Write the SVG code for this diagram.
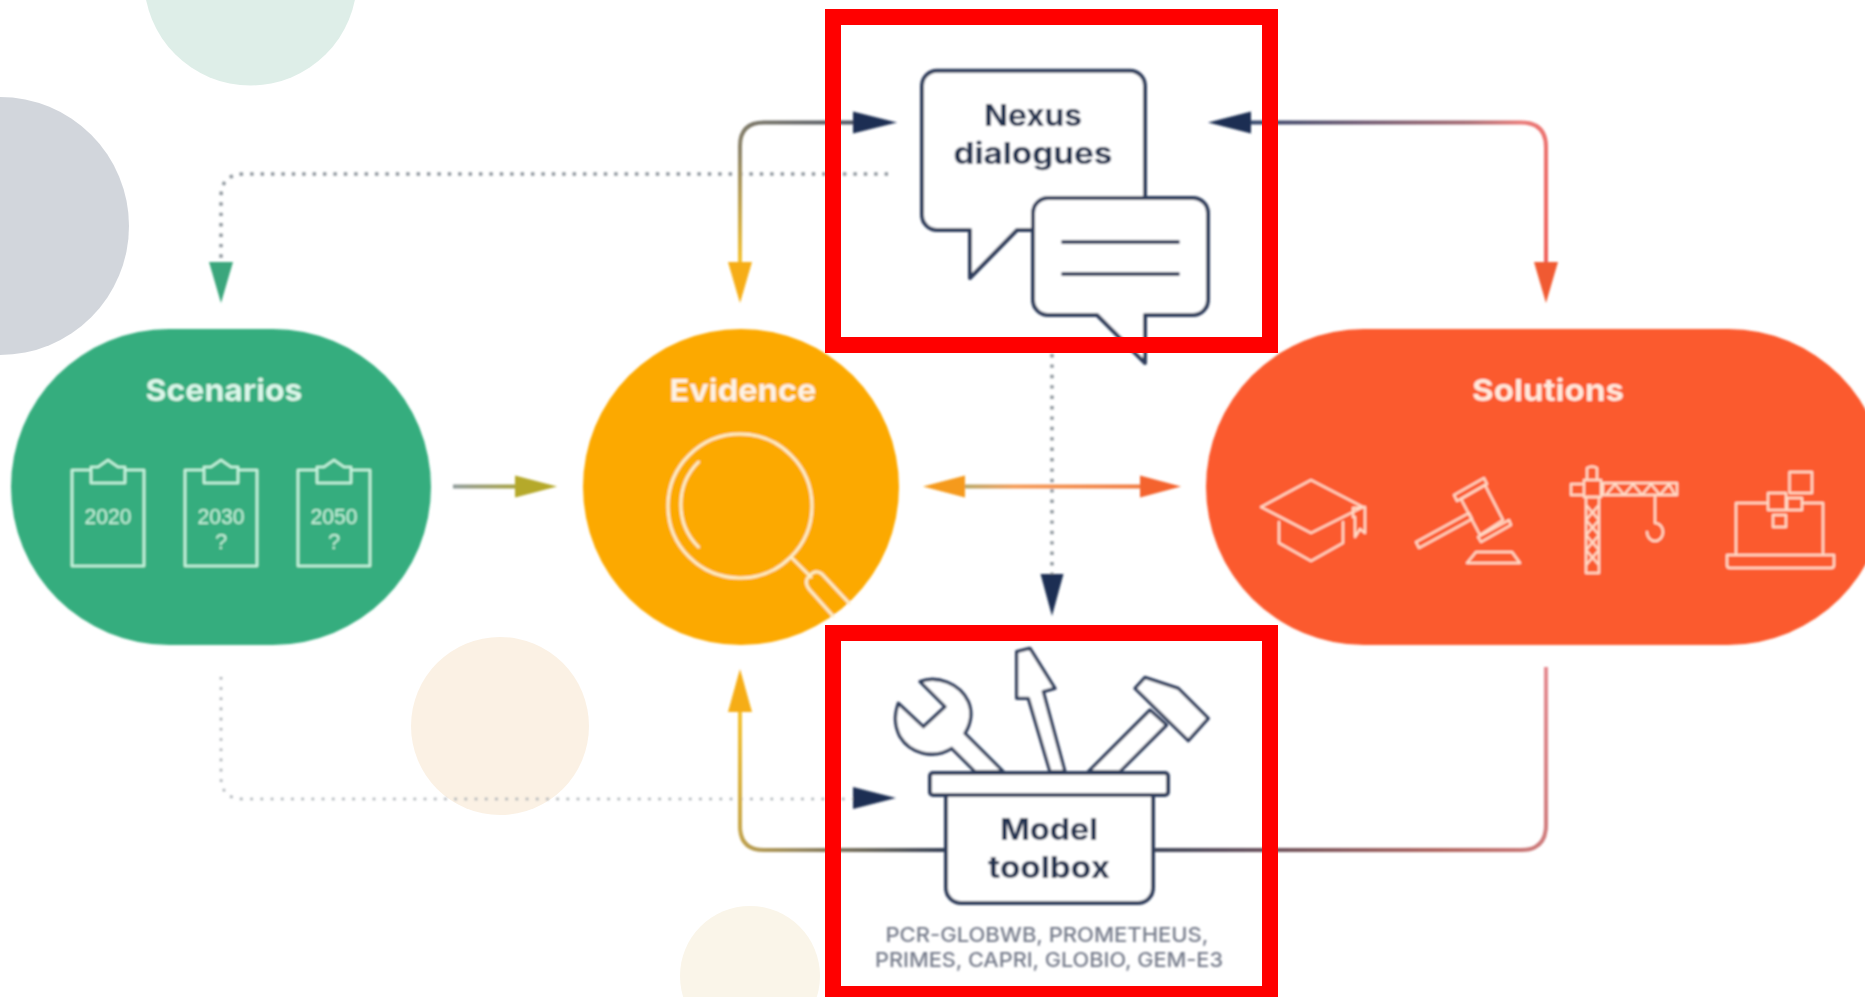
<svg xmlns="http://www.w3.org/2000/svg" width="1865" height="997" viewBox="0 0 1865 997">
<style>
text{font-family:Inter,"Open Sans","Liberation Sans",sans-serif;text-anchor:middle}
.title{font-size:30px;font-weight:700;fill:#fdf3e6}
.dark{font-size:30px;font-weight:700;fill:#22304f}
.small{font-size:20px;font-weight:500;fill:#767c8b}
.year{font-family:"Liberation Sans",Arial,sans-serif;font-size:22px;fill:#c9f3de}
.ink{fill:#fff;stroke:#2f3c5c;stroke-width:4;stroke-linejoin:round;stroke-linecap:round}
.g{fill:none;stroke:#c7f5df;stroke-width:2.6;stroke-linejoin:round}
.y{fill:none;stroke:#fdeec9;stroke-width:3;stroke-linecap:round;stroke-linejoin:round}
.o{fill:none;stroke:#ffdcc8;stroke-width:2.4;stroke-linejoin:round;stroke-linecap:round}
.line{fill:none;stroke-width:4}
.dot{fill:none;stroke:#8d959c;stroke-width:3.4;stroke-dasharray:3.4 7}
.dotl{fill:none;stroke:#a9afb4;stroke-width:2.6;stroke-dasharray:2.6 7.6}
.navy{fill:#1c2f52}
.red{fill:none;stroke:#ff0000;stroke-width:16}
</style>
<defs>
<linearGradient id="gTL" gradientUnits="userSpaceOnUse" x1="740" y1="262" x2="860" y2="122"><stop offset="0" stop-color="#f6c22e"/><stop offset=".45" stop-color="#8d8468"/><stop offset="1" stop-color="#4d5566"/></linearGradient>
<linearGradient id="gTR" gradientUnits="userSpaceOnUse" x1="1251" y1="122" x2="1546" y2="262"><stop offset="0" stop-color="#34466c"/><stop offset=".6" stop-color="#a56a72"/><stop offset=".75" stop-color="#e97a78"/><stop offset="1" stop-color="#f0605a"/></linearGradient>
<linearGradient id="gBL" gradientUnits="userSpaceOnUse" x1="740" y1="712" x2="946" y2="850"><stop offset="0" stop-color="#f6c22e"/><stop offset=".5" stop-color="#9a8a5e"/><stop offset="1" stop-color="#333d54"/></linearGradient>
<linearGradient id="gBR" gradientUnits="userSpaceOnUse" x1="1153" y1="850" x2="1546" y2="667"><stop offset="0" stop-color="#3d4459"/><stop offset=".6" stop-color="#b0655f"/><stop offset="1" stop-color="#e58a90"/></linearGradient>
<linearGradient id="gS" gradientUnits="userSpaceOnUse" x1="453" y1="0" x2="520" y2="0"><stop offset="0" stop-color="#8f9a9a"/><stop offset="1" stop-color="#a8a23a"/></linearGradient>
<linearGradient id="gD" gradientUnits="userSpaceOnUse" x1="960" y1="0" x2="1145" y2="0"><stop offset="0" stop-color="#b0a868"/><stop offset=".3" stop-color="#f59a55"/><stop offset="1" stop-color="#f0783f"/></linearGradient>
<g id="clip"><rect class="g" x="0" y="0" width="72" height="96"/><path class="g" d="M19,13V-3H26L36,-10L46,-3H53V13Z" style="fill:#36ad7e"/></g>
<filter id="soft" x="-2%" y="-2%" width="104%" height="104%"><feGaussianBlur stdDeviation="0.9"/></filter>
</defs>
<rect width="1865" height="997" fill="#fff"/>
<g id="background">
<circle cx="250.500" cy="-21" r="106.500" fill="#deeee8"/>
<circle cx="0" cy="226" r="129" fill="#d2d6dc"/>
<circle cx="500" cy="726" r="89" fill="#fbf1e4"/>
<circle cx="750" cy="976" r="70" fill="#faf5e9"/>
</g>
<g filter="url(#soft)">
<g id="connectors">
<path class="dot" d="M888,174H244Q221,174 221,197V262"/>
<path class="dotl" d="M221,677V777Q221,799 243,799H858"/>
<path class="dot" d="M1052,354V574"/>
<path class="line" stroke="url(#gTL)" d="M860,122.500H764Q740,122.500 740,146V265"/>
<path class="line" stroke="url(#gTR)" d="M1245,122.500H1521Q1546,122.500 1546,147V265"/>
<path class="line" stroke="url(#gBL)" d="M946,850H764Q740,850 740,826V708"/>
<path class="line" stroke="url(#gBR)" d="M1153,850H1521Q1546,850 1546,825V667"/>
<path class="line" stroke="url(#gS)" d="M453,486.500H520"/>
<path class="line" stroke="url(#gD)" d="M960,486.500H1145"/>
<path class="navy" d="M853,111.500L897,122.500L853,133.500Z"/>
<path class="navy" d="M1251,111.500L1208,122.500L1251,133.500Z"/>
<path class="navy" d="M853,787L896,798L853,809Z"/>
<path class="navy" d="M1040.500,574H1063.500L1052,616Z"/>
<path fill="#3aa67b" d="M209,262H233L221,303Z"/>
<path fill="#f6ad12" d="M728,262H752L740,303Z"/>
<path fill="#f05a30" d="M1534,262H1558L1546,303Z"/>
<path fill="#f6ad12" d="M728,712H752L740,669Z"/>
<path fill="#b5a92c" d="M515,475.500L557,486.500L515,497.500Z"/>
<path fill="#f59a1f" d="M965,475.500L923,486.500L965,497.500Z"/>
<path fill="#f4632d" d="M1140,475.500L1181,486.500L1140,497.500Z"/>
</g>
<g id="scenarios">
<rect x="11" y="329" width="420" height="316" rx="158" ry="158" fill="#36ad7e"/>
<text class="title" x="224" y="401" textLength="157" lengthAdjust="spacingAndGlyphs" style="fill:#dcf7ea">Scenarios</text>
<use href="#clip" x="72" y="470"/><use href="#clip" x="185" y="470"/><use href="#clip" x="298" y="470"/>
<text class="year" x="108" y="524" textLength="47" lengthAdjust="spacingAndGlyphs">2020</text>
<text class="year" x="221" y="524" textLength="47" lengthAdjust="spacingAndGlyphs">2030</text>
<text class="year" x="221" y="549">?</text>
<text class="year" x="334" y="524" textLength="47" lengthAdjust="spacingAndGlyphs">2050</text>
<text class="year" x="334" y="549">?</text>
</g>
<g id="evidence">
<circle cx="741" cy="487" r="158" fill="#fca903"/>
<text class="title" x="743" y="401" textLength="147" lengthAdjust="spacingAndGlyphs">Evidence</text>
<circle class="y" cx="740" cy="506" r="72"/>
<path class="y" d="M698.500,462A60,60 0 0 0 698.500,547"/>
<path class="y" d="M792,558L811,577"/>
<path class="y" d="M849,603L822,574Q816,569 810,575L807,579Q805,584 809,589L833,616"/>
</g>
<g id="solutions">
<rect x="1206" y="329" width="680" height="316" rx="158" ry="158" fill="#fb5a2d"/>
<text class="title" x="1548" y="401" textLength="152" lengthAdjust="spacingAndGlyphs" style="fill:#ffe9dc">Solutions</text>
<path class="o" d="M1311,480L1363,507L1311,533L1261,507Z"/>
<path class="o" d="M1279,522V543L1311,561L1343,543V522"/>
<path class="o" d="M1353,517V508L1365,507V533L1360,529L1355,537V517"/>
<path class="o" d="M1454,495L1484,478L1487,484L1457,501Z"/>
<path class="o" d="M1478,537L1509,520L1511,525L1481,542Z"/>
<path class="o" d="M1461,499L1485,485L1503,520L1480,535Z"/>
<path class="o" d="M1416,542L1469,513L1472,519L1419,548Z"/>
<path class="o" d="M1476,552H1512L1520,563H1467Z"/>
<path class="o" d="M1586,497H1599V573H1586ZM1586,505L1599,520L1586,535L1599,550L1586,565M1599,505L1586,520L1599,535L1586,550L1599,565"/>
<path class="o" d="M1584,480H1601V497H1584ZM1587,480V468Q1592,465 1597,468V480M1571,484H1584V495H1571Z"/>
<path class="o" d="M1603,483H1677V495H1603ZM1606,495L1615,484L1624,495L1633,484L1642,495L1651,484L1660,495L1669,484L1675,495"/>
<path class="o" d="M1655,495V523A8,9 0 1 1 1647,532"/>
<path class="o" d="M1736,555V503H1823V555M1727,555H1834V565Q1834,568 1831,568H1730Q1727,568 1727,565Z"/>
<path class="o" d="M1789.500,472H1812V493H1789.500ZM1768,493H1786V510H1768ZM1787,498H1802V510H1787ZM1773,515H1786V527H1773Z" style="fill:#fb5a2d"/>
</g>
<g id="nexus-dialogues">
<path class="ink" d="M937,70.700H1130A15,15 0 0 1 1145,85.700V230H1017L970,278V230H937A15,15 0 0 1 922,215V85.700A15,15 0 0 1 937,70.700Z"/>
<text class="dark" x="1033" y="126" textLength="98" lengthAdjust="spacingAndGlyphs">Nexus</text>
<text class="dark" x="1033" y="164" textLength="159" lengthAdjust="spacingAndGlyphs">dialogues</text>
<path class="ink" d="M1048,198H1193A15,15 0 0 1 1208,213V300A15,15 0 0 1 1193,315H1145V363L1097,315H1048A15,15 0 0 1 1033,300V213A15,15 0 0 1 1048,198Z"/>
<path class="ink" d="M1063,242H1178M1063,274H1178"/>
</g>
<g id="model-toolbox">
<g transform="translate(820 620) scale(.3333)">
<path class="ink" style="stroke-width:10" d="M465,455L395,385C340,420 270,400 240,350C220,310 225,280 235,250L310,320L375,260L300,185C350,165 420,190 445,245C460,280 450,315 435,340L550,455Z"/>
<path class="ink" style="stroke-width:10" d="M690,455L625,235L590,235V95L630,85L705,205L670,215L735,455Z"/>
<path class="ink" style="stroke-width:10" d="M805,455L990,270L1040,315L900,455Z"/>
<path class="ink" style="stroke-width:10" d="M945,205L975,172L1075,205L1165,295L1105,362Z"/>
</g>
<path class="ink" d="M946,795H1153V888A15,15 0 0 1 1138,903H961A15,15 0 0 1 946,888Z"/>
<rect class="ink" x="930" y="773" width="238" height="22" rx="3"/>
<text class="dark" x="1049" y="840" textLength="98" lengthAdjust="spacingAndGlyphs">Model</text>
<text class="dark" x="1049" y="878" textLength="122" lengthAdjust="spacingAndGlyphs">toolbox</text>
<text class="small" x="1047" y="942" textLength="323" lengthAdjust="spacingAndGlyphs">PCR-GLOBWB, PROMETHEUS,</text>
<text class="small" x="1049" y="967" textLength="348" lengthAdjust="spacingAndGlyphs">PRIMES, CAPRI, GLOBIO, GEM-E3</text>
</g>
</g>
<rect class="red" x="833" y="17" width="437" height="328"/>
<rect class="red" x="833" y="633" width="437" height="361"/>
</svg>
